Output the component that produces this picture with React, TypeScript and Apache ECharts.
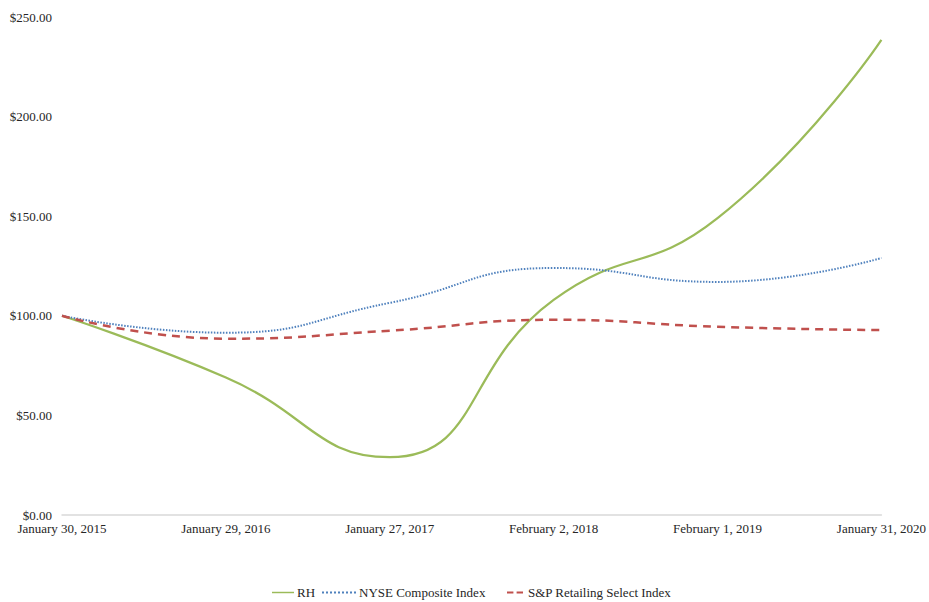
import React, { useEffect, useRef } from "react";
import * as echarts from "echarts";

const categories = [
  "January 30, 2015",
  "January 29, 2016",
  "January 27, 2017",
  "February 2, 2018",
  "February 1, 2019",
  "January 31, 2020",
];
const rhValues = [100, 69, 29, 108, 149, 238.5];
const nyseValues = [100, 91.5, 106.5, 124, 117, 129];
const spValues = [100, 88.5, 92.5, 98, 94.5, 92.8];
const yTicks = [0, 50, 100, 150, 200, 250];
const seriesNames = ["RH", "NYSE Composite Index", "S&P Retailing Select Index"];

const solidIcon = "path://M0,0h30v2h-30z";
const dottedIcon =
  "path://M0,0h2v2h-2zM4,0h2v2h-2zM8,0h2v2h-2zM12,0h2v2h-2zM16,0h2v2h-2zM20,0h2v2h-2zM24,0h2v2h-2zM28,0h2v2h-2zM32,0h2v2h-2z";
const dashedIcon = "path://M0,0h8v2.5h-8zM12,0h8v2.5h-8z";

export default function App() {
  const ref = useRef<HTMLDivElement>(null);
  useEffect(() => {
    if (!ref.current) return;
    const chart = echarts.init(ref.current, undefined, { renderer: "svg" });
    const font = "Liberation Serif";
    const legendText = {
      color: "#262626",
      fontSize: 13,
      fontFamily: font,
      padding: [0, 0, 0, -2],
    };
    const legendBase = {
      top: 586,
      padding: 0,
      itemHeight: 2,
      textStyle: legendText,
    };
    chart.setOption({
      animation: false,
      textStyle: { fontFamily: font },
      grid: { left: 62, right: 47, top: 17, bottom: 87, containLabel: false },
      xAxis: {
        type: "category",
        data: categories,
        boundaryGap: false,
        axisLine: { lineStyle: { color: "#d9d9d9", width: 1.5 } },
        axisTick: { show: false },
        axisLabel: {
          color: "#262626",
          fontSize: 13,
          fontFamily: font,
          margin: 7,
          interval: 0,
        },
      },
      yAxis: {
        type: "value",
        min: 0,
        max: 250,
        interval: 50,
        splitLine: { show: false },
        axisLine: { show: false },
        axisTick: { show: false },
        axisLabel: {
          color: "#262626",
          fontSize: 13,
          fontFamily: font,
          margin: 10,
          formatter: (v: number) =>
            yTicks.includes(v) ? "$" + v.toFixed(2) : "",
        },
      },
      legend: [
        {
          ...legendBase,
          left: 272,
          itemWidth: 22,
          data: [{ name: seriesNames[0], icon: solidIcon }],
        },
        {
          ...legendBase,
          left: 322,
          itemWidth: 34,
          data: [{ name: seriesNames[1], icon: dottedIcon }],
        },
        {
          ...legendBase,
          left: 507,
          itemWidth: 20,
          data: [{ name: seriesNames[2], icon: dashedIcon }],
        },
      ],
      series: [
        {
          name: seriesNames[0],
          type: "line",
          data: rhValues,
          smooth: 0.5,
          symbol: "none",
          lineStyle: { color: "#9BBB59", width: 2.25 },
          itemStyle: { color: "#9BBB59" },
        },
        {
          name: seriesNames[1],
          type: "line",
          data: nyseValues,
          smooth: 0.5,
          symbol: "none",
          lineStyle: { color: "#4F81BD", width: 2, type: [1.5, 1.5] },
          itemStyle: { color: "#4F81BD" },
        },
        {
          name: seriesNames[2],
          type: "line",
          data: spValues,
          smooth: 0.5,
          symbol: "none",
          lineStyle: { color: "#C0504D", width: 2.5, type: [8, 6] },
          itemStyle: { color: "#C0504D" },
        },
      ],
    });
    return () => chart.dispose();
  }, []);
  return (
    <div
      ref={ref}
      style={{ position: "absolute", left: 0, top: 0, width: 929, height: 602 }}
    />
  );
}
